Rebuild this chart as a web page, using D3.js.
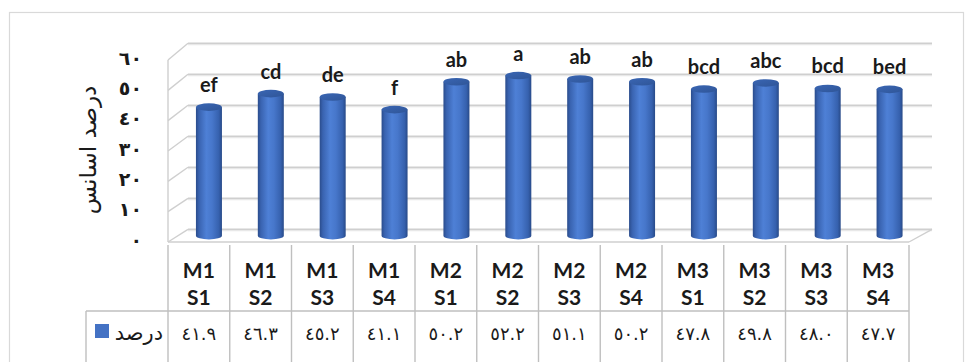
<!DOCTYPE html>
<html>
<head>
<meta charset="utf-8">
<script src="https://cdn.jsdelivr.net/npm/d3@7"></script>
<style>
  html, body { margin: 0; padding: 0; background: #fff; }
  svg { display: block; }
</style>
</head>
<body>
<svg id="chart" width="965" height="362"></svg>
<script>
// Categories (two-line labels), essential-oil percentage and group letters
const categories = ["M1 S1", "M1 S2", "M1 S3", "M1 S4", "M2 S1", "M2 S2", "M2 S3", "M2 S4", "M3 S1", "M3 S2", "M3 S3", "M3 S4"];
const values = [41.9, 46.3, 45.2, 41.1, 50.2, 52.2, 51.1, 50.2, 47.8, 49.8, 48.0, 47.7];
const groups = ["ef", "cd", "de", "f", "ab", "a", "ab", "ab", "bcd", "abc", "bcd", "bed"];
const yTicks = [0, 10, 20, 30, 40, 50, 60];
const yTitle = "درصد اسانس";
const seriesName = "درصد";

const arabicDigits = "٠١٢٣٤٥٦٧٨٩";
const toArabic = s => String(s).replace(/[0-9]/g, d => arabicDigits[+d]);

const svg = d3.select("#chart");
const blue = "#4472C4";
const gridDark = "#CFCFCF", gridLight = "#E8E8E8";
const tableLine = "#BFBFBF";

// Outer chart frame
svg.append("rect").attr("x", 9.5).attr("y", 12.5).attr("width", 954).attr("height", 360)
  .attr("fill", "#fff").attr("stroke", "#D9D9D9").attr("stroke-width", 1.2);

// Front plane and back wall scales (slight perspective between them)
const xFront = d3.scaleBand().domain(categories).range([168, 909]);
const xBackMap = d3.scaleLinear().domain([168, 909]).range([188, 932]);
const yFront = d3.scaleLinear().domain([0, 60]).range([242, 60]);
const yBack = d3.scaleLinear().domain([0, 60]).range([229.3, 43.3]);
const yMid = v => (yFront(v) + yBack(v)) / 2;
const xMid = c => {
  const xf = xFront(c) + xFront.bandwidth() / 2;
  return (xf + xBackMap(xf)) / 2;
};

// Gradients for the cylinders
const defs = svg.append("defs");
const body = defs.append("linearGradient").attr("id", "cylBody").attr("x1", 0).attr("x2", 1).attr("y1", 0).attr("y2", 0);
[["0%", "#2A4C8C"], ["12%", "#3963B0"], ["40%", "#4E80D6"], ["62%", "#4777CB"], ["88%", "#3661AE"], ["100%", "#284A88"]]
  .forEach(([o, c]) => body.append("stop").attr("offset", o).attr("stop-color", c));
const cap = defs.append("linearGradient").attr("id", "cylCap").attr("x1", 0).attr("x2", 1).attr("y1", 0).attr("y2", 1);
[["0%", "#3A66B4"], ["100%", "#2F5597"]]
  .forEach(([o, c]) => cap.append("stop").attr("offset", o).attr("stop-color", c));

// Walls: back wall gridlines, side wall diagonals
const walls = svg.append("g");
yTicks.forEach(t => {
  walls.append("line").attr("x1", 188).attr("x2", 932).attr("y1", yBack(t) + 1.2).attr("y2", yBack(t) + 1.2)
    .attr("stroke", gridLight).attr("stroke-width", 1.6);
  walls.append("line").attr("x1", 188).attr("x2", 932).attr("y1", yBack(t)).attr("y2", yBack(t))
    .attr("stroke", gridDark).attr("stroke-width", 1.4);
  walls.append("line").attr("x1", 168).attr("x2", 188).attr("y1", yFront(t)).attr("y2", yBack(t))
    .attr("stroke", gridDark).attr("stroke-width", 1.4);
});
// Front left edge and floor outline
walls.append("line").attr("x1", 168).attr("x2", 168).attr("y1", yFront(60)).attr("y2", yFront(0))
  .attr("stroke", gridDark).attr("stroke-width", 1.4);
walls.append("line").attr("x1", 168).attr("x2", 909).attr("y1", yFront(0)).attr("y2", yFront(0))
  .attr("stroke", gridDark).attr("stroke-width", 1.4);
walls.append("line").attr("x1", 909).attr("x2", 932).attr("y1", yFront(0)).attr("y2", yBack(0))
  .attr("stroke", gridDark).attr("stroke-width", 1.4);

// Cylinders
const barR = 13, capRy = 3.8;
const bars = svg.append("g").selectAll("g").data(categories).join("g");
bars.append("path")
  .attr("d", (c, i) => {
    const cx = xMid(c), y0 = yMid(0), y1 = yMid(values[i]);
    return `M${cx - barR},${y1} L${cx - barR},${y0} A${barR},${capRy} 0 0 0 ${cx + barR},${y0} L${cx + barR},${y1} Z`;
  })
  .attr("fill", "url(#cylBody)");
bars.append("ellipse")
  .attr("cx", c => xMid(c)).attr("cy", (c, i) => yMid(values[i]))
  .attr("rx", barR).attr("ry", capRy).attr("fill", "url(#cylCap)");

// Group letters above cylinders
svg.append("g").selectAll("text").data(categories).join("text")
  .attr("x", c => xMid(c)).attr("y", (c, i) => yMid(values[i]) - 15)
  .attr("text-anchor", "middle")
  .attr("font-family", "Lato, 'Open Sans', sans-serif").attr("font-weight", 700).attr("font-size", 20)
  .attr("fill", "#1a1a1a")
  .text((c, i) => groups[i]);

// Y axis labels on the front plane
const yAxis = d3.axisLeft(yFront).tickValues(yTicks).tickSize(0).tickPadding(0).tickFormat(d => toArabic(d));
const yg = svg.append("g").attr("transform", "translate(142,-2)").call(yAxis);
yg.select(".domain").remove();
yg.selectAll("text").attr("font-family", "'DejaVu Sans', sans-serif").attr("font-weight", 700)
  .attr("font-size", 19).attr("fill", "#1a1a1a");

// Y axis title
svg.append("text").attr("transform", "translate(96,150) rotate(-90)")
  .attr("text-anchor", "middle")
  .attr("font-family", "'DejaVu Sans', sans-serif").attr("font-size", 23).attr("fill", "#1a1a1a")
  .text(yTitle);

// Data table
const table = svg.append("g");
const tTop = yFront(0), tMid = 311, tBot = 370;
categories.forEach(c => {
  const x = xFront(c);
  table.append("line").attr("x1", x).attr("x2", x).attr("y1", tTop + 3).attr("y2", tBot)
    .attr("stroke", tableLine).attr("stroke-width", 1.4);
});
table.append("line").attr("x1", 909).attr("x2", 909).attr("y1", tTop + 3).attr("y2", tBot)
  .attr("stroke", tableLine).attr("stroke-width", 1.4);
table.append("line").attr("x1", 86).attr("x2", 909).attr("y1", tMid).attr("y2", tMid)
  .attr("stroke", tableLine).attr("stroke-width", 1.4);
table.append("line").attr("x1", 86).attr("x2", 86).attr("y1", tMid).attr("y2", tBot)
  .attr("stroke", tableLine).attr("stroke-width", 1.4);

// Category labels (two lines)
const catText = table.append("g").selectAll("text").data(categories).join("text")
  .attr("text-anchor", "middle")
  .attr("font-family", "Lato, 'Open Sans', sans-serif").attr("font-weight", 700).attr("font-size", 21)
  .attr("fill", "#1a1a1a");
catText.append("tspan").attr("x", c => xFront(c) + xFront.bandwidth() / 2).attr("y", 278).text(c => c.split(" ")[0]);
catText.append("tspan").attr("x", c => xFront(c) + xFront.bandwidth() / 2).attr("y", 305).text(c => c.split(" ")[1]);

// Values row
table.append("g").selectAll("text").data(categories).join("text")
  .attr("x", c => xFront(c) + xFront.bandwidth() / 2).attr("y", 340)
  .attr("text-anchor", "middle")
  .attr("font-family", "'DejaVu Sans', sans-serif").attr("font-size", 18).attr("fill", "#1a1a1a")
  .text((c, i) => toArabic(values[i].toFixed(1)));

// Legend key in the table
table.append("rect").attr("x", 95).attr("y", 324).attr("width", 14).attr("height", 14).attr("fill", blue);
table.append("text").attr("x", 163).attr("y", 340).attr("text-anchor", "end")
  .attr("font-family", "'DejaVu Sans', sans-serif").attr("font-size", 21).attr("fill", "#1a1a1a")
  .text(seriesName);
</script>
</body>
</html>
